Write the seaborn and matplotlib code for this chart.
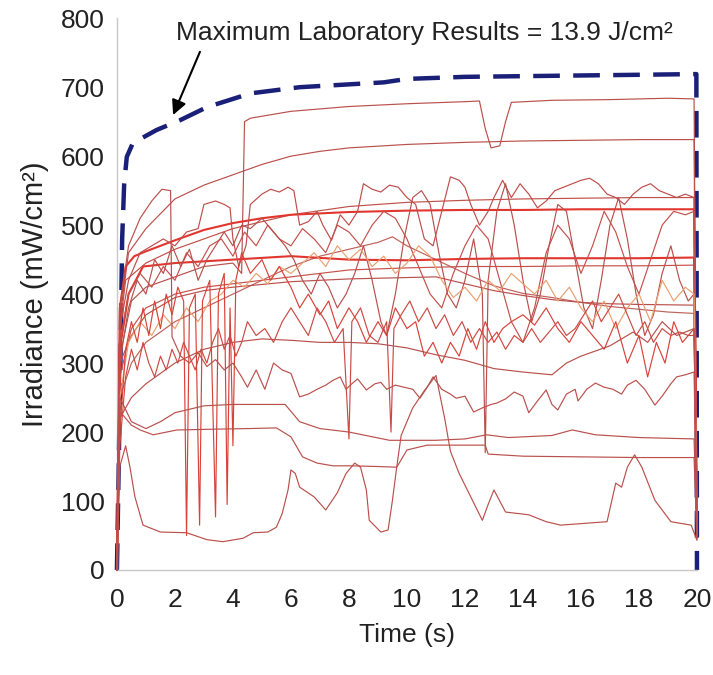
import matplotlib
matplotlib.use("Agg")
import matplotlib.pyplot as plt
import seaborn as sns

# ---- data (time in s, irradiance in mW/cm2) ----
lab_t = [0, 0.12, 0.18, 0.25, 0.34, 0.55, 1.37, 2.17, 3.1, 4.6, 6.3, 9.2, 10, 12, 14, 16, 18, 19.98, 20.0]
lab_v = [0, 300, 480, 560, 599, 619, 638, 652, 671, 691, 700, 707, 712, 715, 716, 717, 718, 719, 0]

top_t = [0, 0.15, 0.5, 1, 2, 3, 4, 4.3, 4.4, 4.6, 6, 8, 10, 12, 12.5, 12.7, 12.9, 13.2, 13.4, 13.6, 15, 17, 19, 19.9, 20]
top_v = [0, 320, 390, 410, 425, 440, 445, 430, 650, 655, 665, 672, 676, 679, 680, 640, 612, 615, 650, 678, 681, 682, 684, 683, 60]

smooth620_t = [0, 0.15, 0.4, 1, 2, 3, 4, 5, 6, 7, 8, 10, 12, 14, 16, 18, 19.9, 20]
smooth620_v = [0, 380, 460, 495, 538, 558, 573, 588, 600, 607, 612, 617, 620, 622, 623, 624, 624, 50]

thick522_t = [0, 0.1, 0.3, 0.6, 1, 2, 3, 4, 5, 6, 8, 10, 12, 14, 16, 18, 19.9, 20]
thick522_v = [0, 380, 440, 455, 462, 478, 493, 503, 510, 515, 519, 521, 522, 522, 523, 523, 523, 55]

thin540_t = [0, 0.1, 0.3, 1, 2, 3, 4, 6, 8, 10, 12, 14, 16, 18, 19.9, 20]
thin540_v = [0, 350, 420, 445, 465, 480, 495, 515, 527, 533, 536, 538, 539, 540, 540, 65]

thick452_t = [0, 0.1, 0.4, 0.9, 2, 4, 6, 8, 10, 12, 14, 16, 18, 19.9, 20]
thick452_v = [0, 320, 400, 440, 445, 450, 455, 450, 449, 451, 452, 452, 452, 453, 50]

thin440_t = [0, 0.1, 0.5, 1, 2, 3, 4, 6, 8, 10, 12, 14, 16, 18, 19.9, 20]
thin440_v = [0, 280, 350, 380, 400, 410, 415, 425, 435, 438, 440, 440, 441, 441, 442, 45]

fall384_t = [0, 0.1, 0.5, 1, 2, 3, 4, 6, 8, 10, 11, 12, 13, 14, 15, 16, 17, 18, 19.9, 20]
fall384_v = [0, 300, 340, 370, 395, 405, 410, 418, 422, 424, 425, 415, 405, 398, 392, 388, 386, 385, 384, 55]

fall372_t = [0, 0.1, 0.5, 1, 2, 3, 4, 5, 6, 7, 8, 9, 9.5, 10, 11, 12, 13, 14, 15, 16, 17, 18, 19, 19.9, 20]
fall372_v = [0, 250, 300, 330, 360, 380, 400, 420, 440, 455, 465, 475, 483, 470, 450, 430, 412, 401, 395, 388, 382, 378, 374, 372, 50]

upper_t = [0, 0.1, 0.4, 0.8, 1.2, 1.6, 2.0, 2.4, 2.8, 3.0, 3.4, 3.7, 3.9, 4.0, 4.2, 4.45, 4.6, 5.0, 5.3, 5.6, 5.9,
           6.1, 6.3, 6.6, 6.9, 7.1, 7.4, 7.7, 8.0, 8.3, 8.5, 8.8, 9.1, 9.4, 9.7, 10.0, 10.3, 10.6, 10.9, 11.2,
           11.5, 11.8, 12.0, 12.2, 12.5, 12.8, 13.0, 13.3, 13.6, 13.9, 14.2, 14.5, 14.8, 15.1, 15.4, 15.7,
           16.0, 16.3, 16.6, 16.9, 17.2, 17.5, 17.8, 18.1, 18.4, 18.7, 19.0, 19.3, 19.6, 19.9, 20]
upper_v = [0, 350, 420, 460, 470, 480, 470, 490, 495, 530, 535, 530, 525, 480, 440, 470, 530, 545, 552, 548, 555,
           550, 500, 505, 520, 500, 478, 515, 500, 520, 560, 552, 548, 558, 555, 540, 530, 480, 470, 520,
           570, 565, 555, 530, 500, 520, 540, 565, 540, 560, 545, 525, 535, 550, 555, 560,
           565, 568, 560, 545, 540, 530, 545, 555, 560, 550, 545, 540, 545, 540, 60]

mid_t = [0, 0.1, 0.4, 0.8, 1.2, 1.6, 2.0, 2.4, 2.8, 3.2, 3.6, 4.0, 4.4, 4.8, 5.2, 5.6, 6.0, 6.4, 6.8, 7.2,
         7.6, 8.0, 8.4, 8.8, 9.2, 9.6, 10.0, 10.4, 10.8, 11.2, 11.6, 12.0, 12.4, 12.8, 13.2, 13.6, 14.0,
         14.4, 14.8, 15.2, 15.6, 16.0, 16.4, 16.8, 17.2, 17.6, 18.0, 18.4, 18.8, 19.2, 19.6, 19.9, 20]
mid_v = [0, 330, 400, 430, 410, 440, 420, 460, 440, 470, 480, 455, 490, 470, 500, 480, 470, 495, 480, 460,
         500, 490, 470, 500, 520, 510, 480, 440, 400, 380, 430, 470, 500, 480, 420, 360, 330,
         380, 460, 500, 480, 430, 470, 520, 490, 440, 400, 450, 500, 520, 515, 520, 50]

swing_t = [0, 0.1, 0.4, 0.7, 1.0, 1.3, 1.6, 1.9, 2.2, 2.5, 2.8, 3.1, 3.4, 3.7, 4.0, 4.3, 4.6, 5.0, 5.4, 5.8,
           6.1, 6.4, 6.7, 7.0, 7.3, 7.6, 7.9, 8.2, 8.5, 8.8, 9.1, 9.3, 9.6, 9.9, 10.2, 10.5, 10.8, 11.1, 11.4,
           11.7, 12.0, 12.3, 12.6, 12.7, 12.8, 13.1, 13.4, 13.7, 14.0, 14.3, 14.6, 14.9, 15.2, 15.5, 15.8,
           16.1, 16.4, 16.7, 17.0, 17.3, 17.6, 17.9, 18.2, 18.5, 18.8, 19.1, 19.4, 19.7, 19.9, 20]
swing_v = [0, 300, 380, 420, 400, 450, 430, 470, 440, 465, 420, 450, 470, 490, 470, 500, 495, 510, 490, 470,
           450, 420, 400, 430, 410, 380, 400, 430, 470, 420, 360, 340, 400, 480, 540, 550, 530, 460, 400,
           380, 420, 480, 400, 170, 420, 520, 560, 500, 420, 360, 400, 470, 530, 520, 450,
           380, 350, 420, 500, 540, 480, 400, 340, 370, 430, 470, 420, 390, 400, 45]

spiky_t = [0, 0.1, 0.3, 0.5, 0.7, 0.9, 1.1, 1.3, 1.5, 1.7, 1.9, 2.1, 2.3, 2.4, 2.5, 2.7, 2.85, 2.95, 3.2, 3.4,
           3.5, 3.7, 3.8, 3.9, 4.0, 4.1, 4.3, 4.6, 5.0, 5.3, 5.6, 6.0, 6.3, 6.6, 7.0, 7.3, 7.6, 8.0, 8.3, 8.6,
           9.0, 9.3, 9.6, 10.0, 10.3, 10.6, 10.9, 11.2, 11.5, 11.8, 12.1, 12.4, 12.7, 13.0, 13.3, 13.6, 14.0,
           14.4, 14.8, 15.2, 15.6, 16.0, 16.4, 16.8, 17.2, 17.6, 18.0, 18.3, 18.6, 18.9, 19.2, 19.5, 19.9, 20]
spiky_v = [0, 200, 320, 360, 330, 380, 340, 390, 350, 400, 370, 410, 390, 50, 380, 400, 65, 390, 420, 77,
           400, 430, 95, 380, 180, 420, 460, 430, 450, 420, 440, 410, 380, 400, 370, 390, 350, 380, 360, 330,
           360, 340, 380, 350, 360, 310, 330, 300, 330, 310, 350, 320, 360, 330, 350, 360, 370,
           355, 380, 350, 330, 360, 340, 320, 360, 300, 340, 280, 330, 300, 360, 330, 350, 50]

amber_t = [0, 0.1, 0.4, 0.8, 1.2, 1.6, 2.0, 2.4, 2.8, 3.2, 3.6, 4.0, 4.4, 4.8, 5.2, 5.6, 6.0, 6.4, 6.8, 7.2,
           7.6, 8.0, 8.4, 8.8, 9.2, 9.6, 10.0, 10.4, 10.8, 11.2, 11.6, 12.0, 12.4, 12.8, 13.2, 13.6, 14.0,
           14.4, 14.8, 15.2, 15.6, 16.0, 16.4, 16.8, 17.2, 17.6, 18.0, 18.4, 18.8, 19.2, 19.6, 19.9, 20]
amber_v = [0, 250, 330, 360, 340, 370, 350, 380, 360, 390, 400, 420, 410, 430, 415, 440, 430, 445, 460, 440,
           470, 450, 465, 440, 455, 430, 445, 470, 455, 420, 395, 410, 390, 420, 405, 430, 415,
           400, 420, 390, 410, 380, 360, 390, 350, 380, 400, 360, 420, 390, 410, 400, 55]

lowmid_t = [0, 0.1, 0.3, 0.5, 0.7, 0.9, 1.1, 1.3, 1.5, 1.7, 1.9, 2.1, 2.3, 2.5, 2.7, 2.9, 3.1, 3.3, 3.5, 3.7,
            3.9, 4.1, 4.3, 4.5, 4.8, 5.1, 5.4, 5.7, 6.0, 6.3, 6.6, 6.9, 7.2, 7.5, 7.8, 8.0, 8.1, 8.4, 8.7,
            9.0, 9.3, 9.45, 9.55, 9.8, 10.1, 10.4, 10.7, 11.0, 11.3, 11.6, 11.9, 12.2, 12.5, 12.8, 13.1,
            13.4, 13.7, 14.0, 14.3, 14.6, 14.9, 15.2, 15.5, 15.8, 16.1, 16.4, 16.7, 17.0, 17.3, 17.6, 17.9,
            18.2, 18.5, 18.8, 19.1, 19.4, 19.7, 19.9, 20]
lowmid_v = [0, 180, 280, 320, 290, 330, 300, 280, 310, 290, 320, 300, 330, 310, 290, 320, 300, 330, 350, 320,
            340, 310, 330, 360, 340, 350, 330, 360, 380, 360, 340, 380, 360, 330, 350, 190, 360, 380, 340,
            330, 360, 200, 350, 370, 390, 360, 380, 350, 370, 340, 360, 330, 350, 330, 345,
            320, 340, 330, 350, 330, 345, 360, 340, 350, 370, 390, 360, 380, 400, 370, 340,
            360, 330, 350, 340, 345, 340, 340, 45]

band250_t = [0, 0.1, 0.4, 0.8, 1.2, 1.55, 1.85, 1.9, 2.2, 2.5, 2.8, 3.1, 3.4, 3.7, 4.0, 4.3, 4.5, 4.8, 5.1,
             5.4, 5.7, 6.0, 6.3, 6.6, 6.9, 7.2, 7.45, 7.7, 7.9, 8.1, 8.3, 8.6, 8.9, 9.1, 9.3, 9.6, 9.9, 10.2,
             10.45, 10.7, 10.9, 11.2, 11.5, 11.7, 12.0, 12.3, 12.6, 12.9, 13.1, 13.4, 13.7, 14.0, 14.2, 14.5,
             14.8, 15.0, 15.2, 15.5, 15.8, 15.9, 16.2, 16.5, 16.8, 17.1, 17.4, 17.6, 17.9, 18.2, 18.55, 18.8,
             19.1, 19.3, 19.6, 19.9, 20]
band250_v = [0, 380, 470, 510, 535, 552, 550, 338, 310, 300, 315, 295, 305, 290, 300, 280, 265, 290, 262,
             300, 290, 285, 251, 255, 262, 268, 275, 280, 262, 270, 277, 261, 270, 272, 262, 268, 265, 262,
             249, 265, 280, 262, 255, 249, 252, 229, 235, 240, 242, 248, 258, 252, 228, 245,
             261, 240, 232, 255, 262, 245, 262, 271, 265, 262, 255, 268, 275, 262, 239, 252,
             270, 280, 283, 287, 50]

band330_t = [0, 0.1, 0.5, 1, 2, 3, 4, 5, 6, 7, 8, 9, 10, 11, 12, 13, 14, 15, 15.5, 16, 17, 17.8, 18.3, 18.8,
             19.3, 19.9, 20]
band330_v = [0, 220, 250, 270, 300, 320, 330, 335, 333, 330, 330, 328, 322, 312, 304, 292, 287, 283, 300, 310,
             325, 345, 330, 360, 340, 350, 55]

flat200_t = [0, 0.1, 0.5, 0.8, 1.25, 2.07, 3.2, 4.5, 5.5, 6.0, 6.4, 6.9, 7.45, 8.1, 9.0, 9.65, 10.0, 10.7,
             11.1, 12.7, 12.8, 14, 16, 18, 19.9, 20]
flat200_v = [0, 230, 210, 203, 196, 203, 204, 205, 206, 193, 164, 155, 151, 151, 150, 149, 174, 181,
             181, 181, 168, 165, 164, 163, 163, 50]

band238_t = [0, 0.1, 0.5, 1, 1.5, 2, 3, 4, 5, 5.8, 6.3, 7, 8, 9.4, 11, 12, 12.75, 13.5, 15, 15.7, 16.5, 18,
             19.9, 20]
band238_v = [0, 250, 215, 205, 215, 228, 238, 240, 240, 240, 215, 205, 200, 188, 188, 190, 196, 192, 195,
             203, 196, 192, 190, 60]

bottom_t = [0, 0.1, 0.3, 0.45, 0.62, 0.9, 1.5, 2.4, 3.1, 3.65, 4.35, 4.7, 5.2, 5.5, 5.7, 5.9, 6.0, 6.15, 6.3,
            6.8, 7.2, 7.6, 7.9, 8.2, 8.4, 8.6, 8.7, 9.1, 9.35, 9.5, 9.65, 9.8, 10.2, 10.6, 11.0, 11.3, 11.5,
            11.8, 12.2, 12.6, 12.8, 13.0, 13.4, 14.2, 14.8, 15.3, 16.9, 17.2, 17.4, 17.6, 17.85, 18.1, 18.55,
            19.1, 19.8, 20]
bottom_v = [0, 150, 180, 149, 106, 65, 55, 54, 44, 41, 46, 54, 55, 62, 82, 116, 145, 140, 120,
            106, 87, 112, 140, 155, 149, 116, 72, 55, 58, 101, 150, 195, 235, 260, 282, 220, 172,
            140, 106, 72, 95, 116, 84, 80, 70, 65, 70, 126, 120, 149, 167, 149, 101,
            70, 65, 43]

# (data, colour, width) for every measured trace
traces = [
    (top_t, top_v, "#b9504c", 0.85),
    (smooth620_t, smooth620_v, "#b9504c", 0.85),
    (thin540_t, thin540_v, "#c0504a", 0.85),
    (thick522_t, thick522_v, "#e0362e", 1.5),
    (fall372_t, fall372_v, "#c0605a", 0.85),
    (fall384_t, fall384_v, "#b9504c", 0.85),
    (thin440_t, thin440_v, "#c8504a", 0.85),
    (thick452_t, thick452_v, "#e0362e", 1.5),
    (upper_t, upper_v, "#bf4d49", 0.85),
    (mid_t, mid_v, "#c4504c", 0.85),
    (swing_t, swing_v, "#b9504c", 0.85),
    (amber_t, amber_v, "#eba070", 0.85),
    (spiky_t, spiky_v, "#d8423a", 0.85),
    (lowmid_t, lowmid_v, "#cc4a44", 0.85),
    (band250_t, band250_v, "#b9504c", 0.85),
    (band330_t, band330_v, "#b9504c", 0.85),
    (band238_t, band238_v, "#b9504c", 0.85),
    (flat200_t, flat200_v, "#b9504c", 0.85),
    (bottom_t, bottom_v, "#b9504c", 0.85),
]

sns.set_style("white")
plt.rcParams["font.family"] = ["Liberation Sans", "DejaVu Sans"]

fig = plt.figure(figsize=(7.13, 6.75), dpi=100)
ax = fig.add_axes([0.164, 0.1556, 0.8135, 0.8174])

sns.lineplot(x=lab_t, y=lab_v, ax=ax, color="#1a1f78", linewidth=3.2, sort=False,
             estimator=None, clip_on=False, zorder=2).lines[-1].set_dashes((6, 3))

for t, v, col, lw in traces:
    sns.lineplot(x=t, y=v, ax=ax, color=col, linewidth=lw, sort=False, estimator=None,
                 clip_on=False, zorder=3)

ax.set_xlim(0, 20)
ax.set_ylim(0, 800)
ax.set_xticks(range(0, 21, 2))
ax.set_yticks(range(0, 801, 100))
ax.tick_params(axis="both", labelsize=19, colors="#222222", length=5, width=0.8, direction="out")
ax.tick_params(axis="x", color="#bbbbbb", pad=8)
ax.tick_params(axis="y", color="#bbbbbb", pad=4)
for side in ["top", "right"]:
    ax.spines[side].set_visible(False)
for side in ["left", "bottom"]:
    ax.spines[side].set_color("#c8c8c8")
    ax.spines[side].set_linewidth(1.0)

ax.set_xlabel("Time (s)", fontsize=19, color="#222222", labelpad=8)
ax.set_ylabel("Irradiance (mW/cm²)", fontsize=21, color="#222222", labelpad=8)

ax.text(10.6, 778, "Maximum Laboratory Results = 13.9 J/cm²", fontsize=19, color="#222222",
        ha="center", va="center")
ax.annotate("", xy=(1.9, 656), xytext=(2.9, 755),
            arrowprops=dict(arrowstyle="-|>", color="black", lw=1.5, mutation_scale=22))

fig.savefig("out.png", dpi=100)
